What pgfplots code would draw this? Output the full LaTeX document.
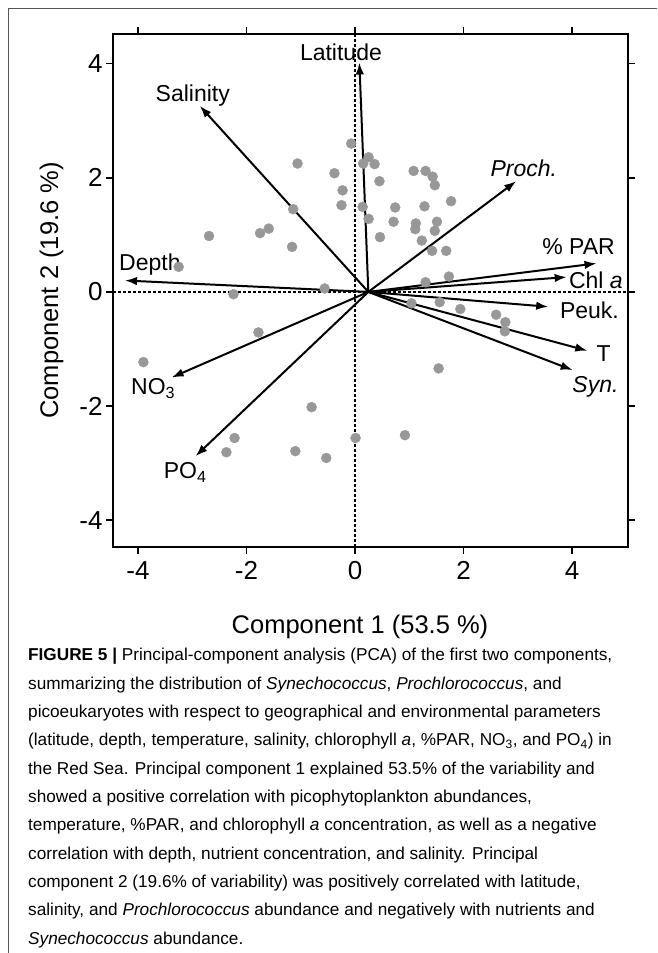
\documentclass[border=0pt]{standalone}
\usepackage{pgfplots}
\pgfplotsset{compat=1.18}
\usepackage{fontspec}
\setmainfont{Liberation Sans}
\usetikzlibrary{arrows.meta}
\definecolor{ptgray}{RGB}{152,152,152}
\definecolor{framegray}{RGB}{85,85,85}
\begin{document}
\begin{tikzpicture}[x=1pt,y=1pt]
\useasboundingbox (0,0) rectangle (657,953);
\draw[framegray, line width=1.3pt] (8.5,0) -- (8.5,944.5) -- (657,944.5);
\begin{axis}[
  at={(113pt,406pt)}, anchor=south west,
  scale only axis, width=515pt, height=513pt,
  xmin=-4.46, xmax=5.03, ymin=-4.47, ymax=4.52,
  xtick={-4,-2,0,2,4}, ytick={-4,-2,0,2,4},
  xticklabels={-4,-2,0,2,4}, yticklabels={-4,-2,0,2,4},
  tick align=outside, major tick length=7pt,
  axis line style={line width=1.8pt},
  every tick/.style={line width=1.6pt, black},
  tick label style={font=\fontsize{26}{26}\selectfont},
  xticklabel style={yshift=-4pt},
  clip=false,
]
% dotted reference lines
\addplot[black, line width=1.5pt, dash pattern=on 2.5pt off 2.5pt] coordinates {(-4.46,0) (5.03,0)};
\addplot[black, line width=1.5pt, dash pattern=on 2.5pt off 2.5pt] coordinates {(0,-4.47) (0,4.52)};
% samples
\addplot[only marks, mark=*, mark size=5pt, ptgray, mark options={draw=none, fill=ptgray}] coordinates {
(-2.69,0.98) (-3.25,0.44) (-2.24,-0.04) (-0.07,2.60) (-1.06,2.25) (-0.38,2.08)
(-0.23,1.78) (-0.25,1.52) (-1.14,1.45) (-1.75,1.03) (-1.59,1.11) (-1.16,0.79)
(-0.56,0.06)
(0.15,2.25) (0.25,2.36) (0.36,2.24) (0.45,1.94) (0.14,1.49) (0.25,1.28)
(0.46,0.96) (1.08,2.12) (1.30,2.12) (1.43,2.02) (1.47,1.87) (1.77,1.59)
(0.74,1.48) (1.28,1.50) (0.71,1.23) (1.12,1.20) (1.11,1.10) (1.51,1.23)
(1.47,1.07) (1.23,0.90) (1.42,0.72) (1.68,0.72) (1.73,0.27) (1.30,0.17)
(1.04,-0.20) (1.56,-0.18) (1.94,-0.30) (2.60,-0.40) (2.77,-0.53) (2.76,-0.69)
(1.54,-1.34)
(-1.78,-0.71) (-3.90,-1.23) (-0.80,-2.02) (-2.22,-2.56) (-2.37,-2.81)
(-1.10,-2.79) (-0.53,-2.91) (0.01,-2.56) (0.92,-2.51)
};
% loading arrows
\pgfplotsset{ld/.style={black, line width=2pt, -{Latex[length=12pt,width=8.5pt]}}}
\addplot[ld] coordinates {(0.245,0) (0.08,4.02)};
\addplot[ld] coordinates {(0.245,0) (-2.86,3.26)};
\addplot[ld] coordinates {(0.245,0) (2.97,1.94)};
\addplot[ld] coordinates {(0.245,0) (4.45,0.50)};
\addplot[ld] coordinates {(0.245,0) (3.90,0.26)};
\addplot[ld] coordinates {(0.245,0) (3.56,-0.26)};
\addplot[ld] coordinates {(0.245,0) (4.28,-1.03)};
\addplot[ld] coordinates {(0.245,0) (4.01,-1.37)};
\addplot[ld] coordinates {(0.245,0) (-4.24,0.20)};
\addplot[ld] coordinates {(0.245,0) (-3.38,-1.50)};
\addplot[ld] coordinates {(0.245,0) (-2.94,-2.88)};
% labels
\begin{scope}[every node/.style={font=\fontsize{23}{23}\selectfont, inner sep=0pt, anchor=base}]
\node at (axis cs:-0.26,4.06) {Latitude};
\node at (axis cs:-2.99,3.34) {Salinity};
\node at (axis cs:3.11,2.03) {\textit{Proch.}};
\node at (axis cs:4.12,0.65) {\% PAR};
\node[anchor=base west] at (axis cs:3.94,0.06) {Chl \textit{a}};
\node at (axis cs:4.32,-0.47) {Peuk.};
\node at (axis cs:4.58,-1.22) {T};
\node at (axis cs:4.43,-1.76) {\textit{Syn.}};
\node at (axis cs:-3.78,0.37) {Depth};
\node at (axis cs:-3.72,-1.80) {NO\textsubscript{3}};
\node at (axis cs:-3.13,-3.27) {PO\textsubscript{4}};
\end{scope}
\end{axis}
\node[font=\fontsize{25.5}{25.5}\selectfont, anchor=base, inner sep=0pt] at (360,319) {Component 1 (53.5 \%)};
\node[font=\fontsize{25.5}{25.5}\selectfont, anchor=base, inner sep=0pt, rotate=90] at (58,662.5) {Component 2 (19.6 \%)};
\begin{scope}[every node/.style={font=\fontsize{17.2}{28.3}\selectfont, inner sep=0pt, anchor=base west}]
\node at (28,292.0) {\textbf{FIGURE 5 |} Principal-component analysis (PCA) of the first two components,};
\node at (28,263.7) {summarizing the distribution of \textit{Synechococcus}, \textit{Prochlorococcus}, and};
\node at (28,235.4) {picoeukaryotes with respect to geographical and environmental parameters};
\node at (28,207.1) {(latitude, depth, temperature, salinity, chlorophyll \textit{a}, \%PAR, NO\textsubscript{3}, and PO\textsubscript{4}) in};
\node at (28,178.8) {the Red Sea. Principal component 1 explained 53.5\% of the variability and};
\node at (28,150.5) {showed a positive correlation with picophytoplankton abundances,};
\node at (28,122.2) {temperature, \%PAR, and chlorophyll \textit{a} concentration, as well as a negative};
\node at (28,93.9) {correlation with depth, nutrient concentration, and salinity. Principal};
\node at (28,65.6) {component 2 (19.6\% of variability) was positively correlated with latitude,};
\node at (28,37.3) {salinity, and \textit{Prochlorococcus} abundance and negatively with nutrients and};
\node at (28,9.0) {\textit{Synechococcus} abundance.};
\end{scope}
\end{tikzpicture}
\end{document}
